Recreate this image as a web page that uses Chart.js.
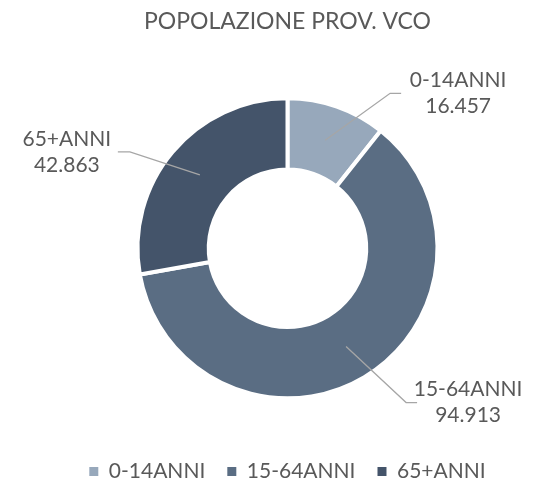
<!DOCTYPE html>
<html>
<head>
<meta charset="utf-8">
<script src="https://cdn.jsdelivr.net/npm/chart.js@4.4.1/dist/chart.umd.min.js"></script>
<style>
  html, body { margin: 0; padding: 0; background: #fff; }
  #wrap { width: 535px; height: 483px; }
</style>
</head>
<body>
<div id="wrap"><canvas id="vco"></canvas></div>
<script>
const categories = ['0-14ANNI', '15-64ANNI', '65+ANNI'];
const population = [16457, 94913, 42863];
const sliceColors = ['#97a8bb', '#5a6d83', '#44546a'];

// leader line elbow / label offsets relative to the slice anchor point
const labelOffsets = [
    {ex: 65, ey: -47, len: 11, tx: 57},
    {ex: 60, ey: 56, len: 11, tx: 51},
    {ex: -70, ey: -23, len: -12, tx: -51},
];

const textColor = '#595959';
const fontFamily = 'Lato, "Open Sans", sans-serif';

const formatIt = (n) => String(n).replace(/\B(?=(\d{3})+(?!\d))/g, '.');

const leaderLabels = {
    id: 'leaderLabels',
    afterDatasetsDraw(chart) {
        const ctx = chart.ctx;
        const meta = chart.getDatasetMeta(0);
        meta.data.forEach((arc, i) => {
            const p = arc.getProps(['x', 'y', 'startAngle', 'endAngle', 'innerRadius', 'outerRadius'], true);
            const mid = (p.startAngle + p.endAngle) / 2;
            const r = (p.innerRadius + p.outerRadius) / 2;
            const ax = p.x + Math.cos(mid) * r;
            const ay = p.y + Math.sin(mid) * r;
            const o = labelOffsets[i];
            const bx = ax + o.ex, by = ay + o.ey;
            const cx = bx + o.len;
            ctx.save();
            ctx.strokeStyle = '#a6a6a6';
            ctx.lineWidth = 1.3;
            ctx.beginPath();
            ctx.moveTo(ax, ay);
            ctx.lineTo(bx, by);
            ctx.lineTo(cx, by);
            ctx.stroke();
            ctx.fillStyle = textColor;
            ctx.font = '21px ' + fontFamily;
            ctx.textAlign = 'center';
            ctx.textBaseline = 'middle';
            const tx = cx + o.tx;
            ctx.fillText(chart.data.labels[i], tx, by - 13);
            ctx.fillText(formatIt(chart.data.datasets[0].data[i]), tx, by + 13);
            ctx.restore();
        });
    }
};

const defaultLegendLabels = Chart.overrides.doughnut.plugins.legend.labels.generateLabels;

new Chart(document.getElementById('vco').getContext('2d'), {
    type: 'doughnut',
    data: {
        labels: categories,
        datasets: [{
            data: population,
            backgroundColor: sliceColors,
            borderColor: '#ffffff',
            borderWidth: 4,
        }],
    },
    options: {
        responsive: true,
        maintainAspectRatio: false,
        animation: false,
        radius: 150,
        cutout: '52.5%',
        layout: {padding: {left: 40, right: 0, top: 0, bottom: -9}},
        plugins: {
            title: {
                display: true,
                text: 'POPOLAZIONE PROV. VCO',
                color: textColor,
                font: {family: fontFamily, size: 23, weight: 'normal'},
                padding: {top: 8, bottom: 22},
            },
            legend: {
                position: 'bottom',
                labels: {
                    color: textColor,
                    font: {family: fontFamily, size: 21},
                    boxWidth: 9,
                    boxHeight: 9,
                    padding: 22,
                    generateLabels(chart) {
                        return defaultLegendLabels(chart).map(item => ({...item, lineWidth: 0}));
                    },
                },
            },
            tooltip: {enabled: false},
        },
    },
    plugins: [leaderLabels],
});
</script>
</body>
</html>
